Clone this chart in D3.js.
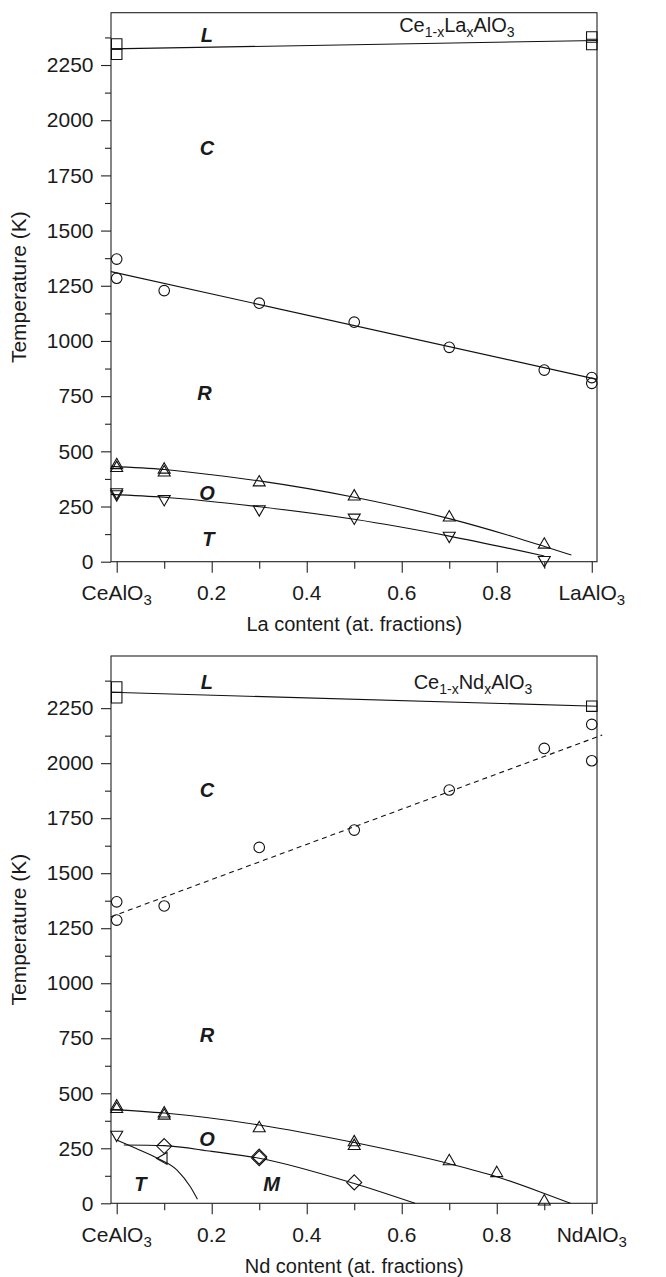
<!DOCTYPE html>
<html>
<head>
<meta charset="utf-8">
<script src="https://cdn.jsdelivr.net/npm/d3@7"></script>
<style>
  html, body { margin: 0; padding: 0; background: #fff; }
  svg { display: block; }
  text { font-family: "Liberation Sans", Arial, Helvetica, sans-serif; fill: #1a1a1a; }
</style>
</head>
<body>
<svg id="chart" width="666" height="1277"></svg>
<script>
// ---------------- DATA ----------------
const xMinorTicks = [0.1, 0.3, 0.5, 0.7, 0.9];
const xMajorTicks = [0, 0.2, 0.4, 0.6, 0.8, 1];
const laXLabels = [["CeAlO", "3"], ["0.2"], ["0.4"], ["0.6"], ["0.8"], ["LaAlO", "3"]];
const ndXLabels = [["CeAlO", "3"], ["0.2"], ["0.4"], ["0.6"], ["0.8"], ["NdAlO", "3"]];
const yMajorTicks = [0, 250, 500, 750, 1000, 1250, 1500, 1750, 2000, 2250];
const yMinorTicks = [125, 375, 625, 875, 1125, 1375, 1625, 1875, 2125, 2375];
const yTitle = "Temperature (K)";
const laXTitle = "La content (at. fractions)";
const ndXTitle = "Nd content (at. fractions)";

// Ce(1-x)La(x)AlO3 panel
const laSquares = [[0, 2345], [0, 2299], [1, 2377], [1, 2343]];
const laLiquidus = [[-0.012, 2323], [1.011, 2361]];
const laCircles = [[0, 1371], [0, 1284], [0.1, 1228], [0.3, 1171], [0.5, 1085], [0.7, 971], [0.9, 868], [1, 834], [1, 808]];
const laCubicLine = [[-0.012, 1314], [1.011, 826]];
const laUpTri = [[0, 445], [0, 432], [0.1, 425], [0.1, 412], [0.3, 367], [0.5, 303], [0.7, 208], [0.9, 85]];
const laUpCurve = [[-0.012, 432], [0.1, 418], [0.2, 394], [0.3, 366], [0.5, 292], [0.7, 195], [0.85, 103], [0.957, 30]];
const laDownTri = [[0, 307], [0, 298], [0.1, 276], [0.3, 230], [0.5, 192], [0.7, 110], [0.9, 0]];
const laDownCurve = [[-0.012, 305], [0.1, 292], [0.3, 249], [0.5, 192], [0.7, 116], [0.9, 26]];
const laPhaseLabels = [["L", 0.19, 2386], ["C", 0.19, 1875], ["R", 0.185, 766], ["O", 0.19, 311], ["T", 0.193, 106]];
const laFormula = [["Ce", ""], ["1-x", "sub"], ["La", ""], ["x", "sub"], ["AlO", ""], ["3", "sub"]];
const laFormulaPos = [0.716, 2400];

// Ce(1-x)Nd(x)AlO3 panel
const ndSquares = [[0, 2346], [0, 2297], [1, 2259]];
const ndLiquidus = [[-0.012, 2322], [1.011, 2259]];
const ndCircles = [[0, 1370], [0, 1287], [0.1, 1351], [0.3, 1617], [0.5, 1696], [0.7, 1878], [0.9, 2067], [1, 2176], [1, 2011]];
const ndDashed = [[-0.012, 1302], [1.022, 2128]];
const ndUpTri = [[0, 448], [0, 436], [0.1, 416], [0.1, 406], [0.3, 349], [0.5, 285], [0.5, 268], [0.7, 199], [0.8, 145], [0.9, 16]];
const ndUpCurve = [[-0.012, 427], [0.1, 410], [0.3, 356], [0.5, 276], [0.7, 180], [0.8, 121], [0.9, 45], [0.955, 0]];
const ndDownTri = [[0, 304]];
const ndDiamonds = [[0.1, 260], [0.3, 212], [0.3, 205], [0.5, 95]];
const ndDiamondCurve = [[0.015, 265], [0.1, 262], [0.2, 236], [0.3, 205], [0.5, 90], [0.628, 0]];
const ndLeftTri = [[0.095, 204]];
const ndTCurve = [[0, 288], [0.04, 250], [0.0855, 205], [0.127, 151], [0.155, 75], [0.17, 18]];
const ndPhaseLabels = [["L", 0.19, 2370], ["C", 0.19, 1880], ["R", 0.19, 766], ["O", 0.19, 295], ["T", 0.05, 88], ["M", 0.326, 88]];
const ndFormula = [["Ce", ""], ["1-x", "sub"], ["Nd", ""], ["x", "sub"], ["AlO", ""], ["3", "sub"]];
const ndFormulaPos = [0.75, 2337];

// ---------------- DRAW ----------------
const svg = d3.select("#chart");
const X_DOMAIN = [-0.012, 1.011];
const Y_DOMAIN = [0, 2487];

function triPath(s, dir) {
  const h = s * 0.866;
  let pts;
  if (dir === "up") pts = [[0, -h / 2], [s / 2, h / 2], [-s / 2, h / 2]];
  else if (dir === "down") pts = [[0, h / 2], [s / 2, -h / 2], [-s / 2, -h / 2]];
  else pts = [[-h / 2, 0], [h / 2, -s / 2], [h / 2, s / 2]]; // left
  return "M" + pts.map(p => p.join(",")).join("L") + "Z";
}

function drawPanel(cfg) {
  const x = d3.scaleLinear().domain(X_DOMAIN).range([111, 597]);
  const y = d3.scaleLinear().domain(Y_DOMAIN).range([cfg.bottom, cfg.top]);
  const g = svg.append("g");

  // clip for curves
  const clipId = "clip" + cfg.id;
  svg.append("clipPath").attr("id", clipId)
    .append("rect").attr("x", 111).attr("y", cfg.top).attr("width", 486).attr("height", cfg.bottom - cfg.top);

  // frame
  g.append("rect").attr("x", 111).attr("y", cfg.top).attr("width", 486).attr("height", cfg.bottom - cfg.top)
    .attr("fill", "none").attr("stroke", "#222").attr("stroke-width", 1.1);

  // x axis ticks
  const xAxisMajor = d3.axisBottom(x).tickValues(xMajorTicks).tickSize(11).tickFormat("");
  const xAxisMinor = d3.axisBottom(x).tickValues(xMinorTicks).tickSize(7).tickFormat("");
  [xAxisMajor, xAxisMinor].forEach(ax => {
    const a = g.append("g").attr("transform", `translate(0,${cfg.bottom})`).call(ax);
    a.select(".domain").remove();
    a.selectAll("line").attr("stroke", "#222").attr("stroke-width", 1.1);
  });
  // x tick labels (with subscripts)
  const xl = g.append("g");
  xMajorTicks.forEach((v, i) => {
    const lab = cfg.xLabels[i];
    const t = xl.append("text").attr("x", x(v)).attr("y", cfg.bottom + 38.7)
      .attr("text-anchor", "middle").attr("font-size", 21);
    t.append("tspan").text(lab[0]);
    if (lab[1]) t.append("tspan").attr("font-size", 15).attr("dy", 5).text(lab[1]);
  });
  g.append("text").attr("x", x(0.5)).attr("y", cfg.bottom + 69.7).attr("text-anchor", "middle")
    .attr("font-size", 20).text(cfg.xTitle);

  // y axis
  const yAxisMajor = d3.axisLeft(y).tickValues(yMajorTicks).tickSize(10).tickPadding(7).tickFormat(d3.format("d"));
  const yAxisMinor = d3.axisLeft(y).tickValues(yMinorTicks).tickSize(6).tickFormat("");
  const ya = g.append("g").attr("transform", "translate(111,0)").call(yAxisMajor);
  ya.select(".domain").remove();
  ya.selectAll("line").attr("stroke", "#222").attr("stroke-width", 1.1);
  ya.selectAll("text").attr("font-size", 21).attr("font-family", "Liberation Sans, Arial, sans-serif").attr("fill", "#1a1a1a").attr("x", -17.5);
  const yb = g.append("g").attr("transform", "translate(111,0)").call(yAxisMinor);
  yb.select(".domain").remove();
  yb.selectAll("line").attr("stroke", "#222").attr("stroke-width", 1.1);
  g.append("text").attr("transform", `translate(26,${(cfg.top + cfg.bottom) / 2}) rotate(-90)`)
    .attr("text-anchor", "middle").attr("font-size", 21).text(yTitle);

  // lines
  const line = d3.line().x(d => x(d[0])).y(d => y(d[1]));
  const curve = d3.line().x(d => x(d[0])).y(d => y(d[1])).curve(d3.curveMonotoneX);
  const lg = g.append("g").attr("fill", "none").attr("stroke", "#111").attr("stroke-width", 1.1);
  cfg.lines.forEach(l => {
    const p = lg.append("path").attr("d", (l.curved ? curve : line)(l.data));
    if (l.dashed) p.attr("stroke-dasharray", "5,4");
    if (l.clip) p.attr("clip-path", `url(#${clipId})`);
  });

  // markers
  const mg = g.append("g").attr("fill", "none").attr("stroke", "#111").attr("stroke-width", 1.1);
  cfg.markers.forEach(m => {
    let pathD;
    if (m.type === "square") pathD = d3.symbol().type(d3.symbolSquare).size(110)();
    else if (m.type === "circle") pathD = d3.symbol().type(d3.symbolCircle).size(88)();
    else if (m.type === "diamond") pathD = "M0,-7.5L7.5,0L0,7.5L-7.5,0Z";
    else pathD = triPath(12, m.type);
    mg.selectAll(null).data(m.data).enter().append("path")
      .attr("d", pathD)
      .attr("transform", d => `translate(${x(d[0])},${y(d[1])})`);
  });

  // phase labels
  g.append("g").selectAll("text").data(cfg.phaseLabels).enter().append("text")
    .attr("x", d => x(d[1])).attr("y", d => y(d[2])).attr("dy", "0.36em")
    .attr("text-anchor", "middle").attr("font-size", 20).attr("font-weight", "bold").attr("font-style", "italic")
    .text(d => d[0]);

  // formula
  const ft = g.append("text").attr("x", x(cfg.formulaPos[0])).attr("y", y(cfg.formulaPos[1]))
    .attr("text-anchor", "middle").attr("font-size", 20);
  let prevSub = false;
  cfg.formula.forEach(part => {
    const isSub = part[1] === "sub";
    const ts = ft.append("tspan").text(part[0]);
    if (isSub) ts.attr("font-size", 14).attr("dy", prevSub ? 0 : 5);
    else if (prevSub) ts.attr("dy", -5);
    prevSub = isSub;
  });
}

drawPanel({
  id: "la", top: 12.7, bottom: 561.7, xLabels: laXLabels, xTitle: laXTitle,
  lines: [
    { data: laLiquidus },
    { data: laCubicLine },
    { data: laUpCurve, curved: true },
    { data: laDownCurve, curved: true }
  ],
  markers: [
    { type: "square", data: laSquares },
    { type: "circle", data: laCircles },
    { type: "up", data: laUpTri },
    { type: "down", data: laDownTri }
  ],
  phaseLabels: laPhaseLabels, formula: laFormula, formulaPos: laFormulaPos
});

drawPanel({
  id: "nd", top: 656, bottom: 1203.3, xLabels: ndXLabels, xTitle: ndXTitle,
  lines: [
    { data: ndLiquidus },
    { data: ndDashed, dashed: true },
    { data: ndUpCurve, curved: true },
    { data: ndDiamondCurve, curved: true },
    { data: ndTCurve, curved: true }
  ],
  markers: [
    { type: "square", data: ndSquares },
    { type: "circle", data: ndCircles },
    { type: "up", data: ndUpTri },
    { type: "down", data: ndDownTri },
    { type: "diamond", data: ndDiamonds },
    { type: "left", data: ndLeftTri }
  ],
  phaseLabels: ndPhaseLabels, formula: ndFormula, formulaPos: ndFormulaPos
});
</script>
</body>
</html>
